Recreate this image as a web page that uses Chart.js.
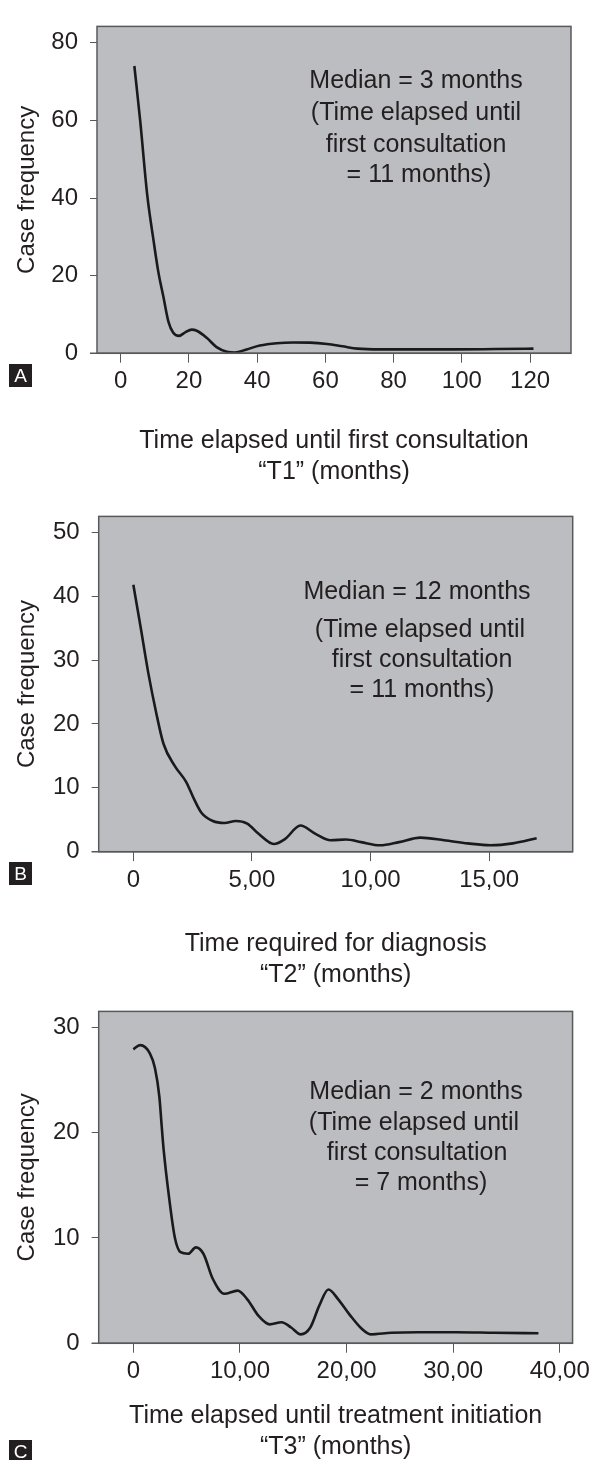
<!DOCTYPE html>
<html>
<head>
<meta charset="utf-8">
<script src="https://cdn.jsdelivr.net/npm/chart.js@4.4.1/dist/chart.umd.min.js"></script>
<style>
  html, body { margin: 0; padding: 0; background: #fff; overflow: hidden; }
  body { width: 595px; height: 1460px; position: relative; }
  canvas { position: absolute; left: 0; }
</style>
</head>
<body>
<canvas id="chartA" width="595" height="500" style="top:0px"></canvas>
<canvas id="chartB" width="595" height="510" style="top:490px"></canvas>
<canvas id="chartC" width="595" height="480" style="top:985px"></canvas>
<script>
// panel A - time until first consultation (T1)
const aTime = [4, 5.7, 7.8, 9.6, 11, 12.5, 14, 15.4, 17.1, 18.9, 20.8, 22.3, 25.2, 28.1, 31.1, 33.5, 36.9, 40.8, 45.7, 50.6, 55.5, 60.5, 65, 69.4, 76, 87, 98, 110, 121];
const aFreq = [74, 60, 40.6, 29.2, 21.1, 14.6, 8.1, 5.3, 4.5, 5.4, 6.1, 5.8, 4.0, 1.6, 0.4, 0.2, 1.0, 2.0, 2.6, 2.8, 2.75, 2.4, 1.8, 1.2, 1.0, 1.0, 1.0, 1.1, 1.2];
const aXTicks = [0, 20, 40, 60, 80, 100, 120];
const aXTickLabels = ["0", "20", "40", "60", "80", "100", "120"];
const aYTicks = [0, 20, 40, 60, 80];

// panel B - time required for diagnosis (T2)
const bTime = [0, 0.31, 0.63, 0.95, 1.27, 1.75, 2.23, 2.55, 2.87, 3.35, 3.84, 4.32, 4.8, 5.28, 5.92, 6.4, 7.04, 7.68, 8.32, 8.96, 9.6, 10.4, 11.2, 12.1, 13.1, 14.1, 15.05, 16.0, 17.0];
const bFreq = [41.8, 35.1, 28.0, 22.0, 16.9, 13.4, 10.9, 8.3, 6.1, 4.8, 4.5, 4.8, 4.4, 2.8, 1.2, 2.0, 4.1, 2.8, 1.8, 1.9, 1.5, 1.0, 1.5, 2.2, 1.8, 1.3, 1.0, 1.3, 2.1];
const bXTicks = [0, 5, 10, 15];
const bXTickLabels = ["0", "5,00", "10,00", "15,00"];
const bYTicks = [0, 10, 20, 30, 40, 50];

// panel C - time until treatment initiation (T3)
const cTime = [0, 0.63, 1.56, 2.03, 2.44, 2.66, 2.83, 3.37, 3.9, 4.43, 5.15, 5.86, 6.57, 7.46, 8.53, 9.78, 10.67, 11.75, 12.8, 13.9, 14.8, 15.7, 16.6, 17.45, 18.3, 19.2, 20.3, 21.4, 22.26, 24.2, 26.7, 30.3, 33.8, 38];
const cFreq = [27.9, 28.3, 27.5, 26.1, 23.4, 20.6, 18.5, 13.7, 10.0, 8.65, 8.5, 9.1, 8.5, 6.1, 4.7, 5.0, 4.2, 2.6, 1.8, 2.0, 1.5, 0.85, 1.5, 3.6, 5.1, 4.2, 2.7, 1.4, 0.85, 1.0, 1.05, 1.05, 1.0, 0.95];
const cXTicks = [0, 10, 20, 30, 40];
const cXTickLabels = ["0", "10,00", "20,00", "30,00", "40,00"];
const cYTicks = [0, 10, 20, 30];

const fontFamily = '"Liberation Sans", Arial, Helvetica, sans-serif';
const textColor = "#231f20";
const axisColor = "#58595b";
const panelGray = "#bcbdc1";

// gray panel, frame, letter tag and the median note
const panelDeco = {
  id: "panelDeco",
  beforeDraw(chart, args, o) {
    const { ctx, chartArea: a } = chart;
    ctx.save();
    ctx.fillStyle = panelGray;
    ctx.fillRect(a.left, a.top, a.right - a.left, a.bottom - a.top);
    ctx.restore();
  },
  afterDraw(chart, args, o) {
    const { ctx, chartArea: a } = chart;
    ctx.save();
    ctx.strokeStyle = axisColor;
    ctx.lineWidth = 1.5;
    ctx.strokeRect(a.left, a.top, a.right - a.left, a.bottom - a.top);
    ctx.beginPath();
    ctx.moveTo(a.left - 7, a.bottom);
    ctx.lineTo(a.right, a.bottom);
    ctx.stroke();

    ctx.fillStyle = textColor;
    ctx.fillRect(9, o.letterTop, 23, 23);
    ctx.fillStyle = "#fff";
    ctx.font = "19px " + fontFamily;
    ctx.textAlign = "center";
    ctx.textBaseline = "middle";
    ctx.fillText(o.letter, 20.5, o.letterTop + 12.5);

    ctx.fillStyle = textColor;
    ctx.font = "25px " + fontFamily;
    o.notes.forEach((n) => ctx.fillText(n.text, n.x, n.y));
    ctx.restore();
  },
};

function makePanel(id, cfg) {
  const canvas = document.getElementById(id);
  const box = cfg.box;
  const titleBottom = cfg.titleLast + 15.5;
  return new Chart(canvas, {
    type: "line",
    data: {
      datasets: [
        {
          data: cfg.xs.map((x, i) => ({ x: x, y: cfg.ys[i] })),
          borderColor: "#1a1a1a",
          borderWidth: 2.6,
          pointRadius: 0,
          cubicInterpolationMode: "monotone",
          fill: false,
        },
      ],
    },
    options: {
      responsive: false,
      animation: false,
      devicePixelRatio: 1,
      layout: {
        padding: { top: box.t, left: 0, right: 595 - box.r, bottom: canvas.height - titleBottom },
      },
      plugins: {
        legend: { display: false },
        tooltip: { enabled: false },
        panelDeco: { letter: cfg.letter, letterTop: cfg.letterTop, notes: cfg.notes },
      },
      scales: {
        x: {
          type: "linear",
          min: cfg.xMin,
          max: cfg.xMax,
          afterBuildTicks: (s) => { s.ticks = cfg.xTicks.map((v) => ({ value: v })); },
          afterFit: (s) => { s.height = titleBottom - box.b; },
          grid: { drawOnChartArea: false, tickLength: 9.4, color: axisColor, lineWidth: 1 },
          border: { display: false },
          ticks: {
            autoSkip: false,
            maxRotation: 0,
            padding: 4.6,
            color: textColor,
            font: { family: fontFamily, size: 24 },
            callback: (v, i) => cfg.xTickLabels[i],
          },
          title: {
            display: true,
            text: cfg.xTitle,
            color: textColor,
            font: { family: fontFamily, size: 25, lineHeight: 1.24 },
            padding: 0,
          },
        },
        y: {
          type: "linear",
          min: 0,
          max: cfg.yMax,
          afterBuildTicks: (s) => { s.ticks = cfg.yTicks.map((v) => ({ value: v })); },
          afterFit: (s) => { s.width = box.l; },
          grid: { drawOnChartArea: false, tickLength: 7, color: axisColor, lineWidth: 1 },
          border: { display: false },
          ticks: {
            padding: 12,
            color: textColor,
            font: { family: fontFamily, size: 24 },
          },
          title: {
            display: true,
            text: "Case frequency",
            color: textColor,
            font: { family: fontFamily, size: 24, lineHeight: 1.2 },
            padding: { top: 13, bottom: 0 },
          },
        },
      },
    },
    plugins: [panelDeco],
  });
}

makePanel("chartA", {
  xs: aTime, ys: aFreq, xTicks: aXTicks, xTickLabels: aXTickLabels, yTicks: aYTicks,
  xMin: -6.95, xMax: 132, yMax: 84.2,
  box: { l: 97, t: 7.3, r: 571, b: 353.3 },
  titleLast: 472,
  xTitle: ["Time elapsed until first consultation", "\u201CT1\u201D (months)"],
  letter: "A", letterTop: 364,
  notes: [
    { text: "Median = 3 months", x: 416, y: 81 },
    { text: "(Time elapsed until", x: 416, y: 113 },
    { text: "first consultation", x: 416, y: 145 },
    { text: "= 11 months)", x: 419, y: 175 },
  ],
});

makePanel("chartB", {
  xs: bTime, ys: bFreq, xTicks: bXTicks, xTickLabels: bXTickLabels, yTicks: bYTicks,
  xMin: -1.46, xMax: 18.52, yMax: 52.5,
  box: { l: 98.7, t: 15, r: 572.7, b: 361.7 },
  titleLast: 485,
  xTitle: ["Time required for diagnosis", "\u201CT2\u201D (months)"],
  letter: "B", letterTop: 372,
  notes: [
    { text: "Median = 12 months", x: 417, y: 102 },
    { text: "(Time elapsed until", x: 420, y: 140 },
    { text: "first consultation", x: 422, y: 170 },
    { text: "= 11 months)", x: 422, y: 200 },
  ],
});

makePanel("chartC", {
  xs: cTime, ys: cFreq, xTicks: cXTicks, xTickLabels: cXTickLabels, yTicks: cYTicks,
  xMin: -3.25, xMax: 41.2, yMax: 31.5,
  box: { l: 98.7, t: 12.6, r: 572.7, b: 358.3 },
  titleLast: 462,
  xTitle: ["Time elapsed until treatment initiation", "\u201CT3\u201D (months)"],
  letter: "C", letterTop: 455,
  notes: [
    { text: "Median = 2 months", x: 416, y: 107 },
    { text: "(Time elapsed until", x: 414, y: 138 },
    { text: "first consultation", x: 417, y: 168 },
    { text: "= 7 months)", x: 421, y: 198 },
  ],
});
</script>
</body>
</html>
